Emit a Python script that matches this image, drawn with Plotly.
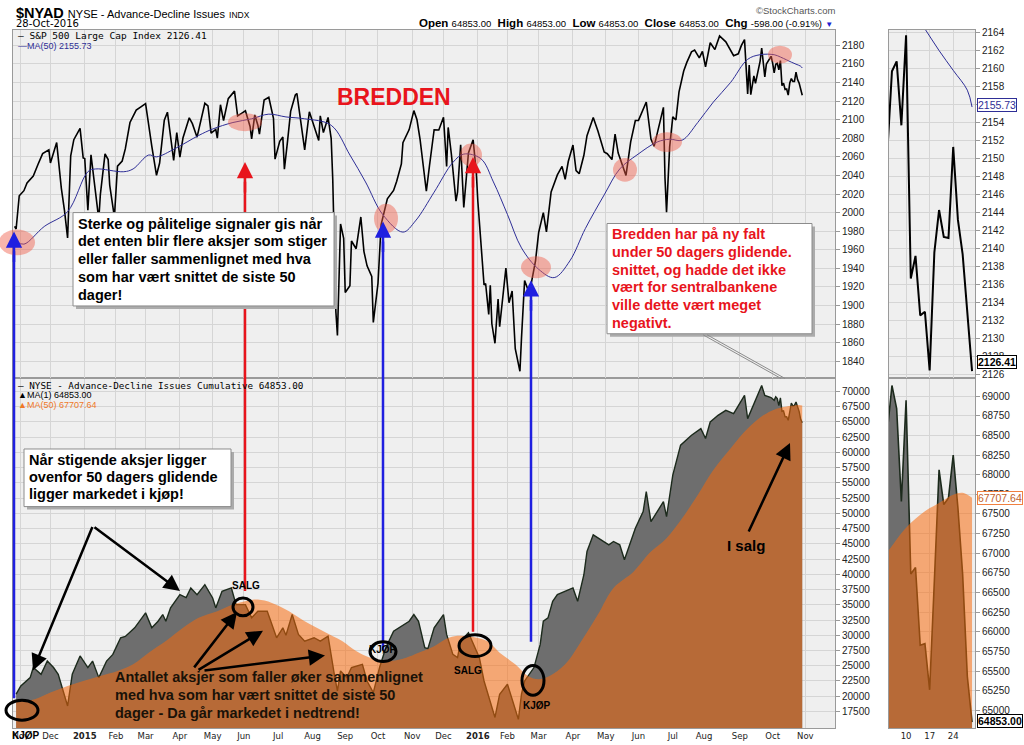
import pandas as pd
import plotly.graph_objects as go

# S&P 500 close (date, value)
sp500 = [
    ("2014-10-28", 1985.1), ("2014-10-29", 1982.3), ("2014-10-31", 2018.1),
    ("2014-11-05", 2023.6), ("2014-11-07", 2031.9), ("2014-11-13", 2039.3), ("2014-11-18", 2051.8),
    ("2014-11-21", 2063.5), ("2014-11-28", 2067.6),
    ("2014-12-01", 2053.4), ("2014-12-05", 2075.4), ("2014-12-10", 2026.1), ("2014-12-12", 2002.3),
    ("2014-12-16", 1972.7), ("2014-12-18", 2061.2), ("2014-12-22", 2078.5), ("2014-12-29", 2090.6),
    ("2014-12-31", 2058.9),
    ("2015-01-02", 2058.2), ("2015-01-06", 2002.6), ("2015-01-08", 2062.1), ("2015-01-13", 2023.0),
    ("2015-01-15", 1992.7), ("2015-01-16", 2019.4), ("2015-01-22", 2063.2), ("2015-01-26", 2057.1),
    ("2015-01-27", 2029.6), ("2015-01-30", 1995.0),
    ("2015-02-03", 2050.0), ("2015-02-06", 2055.5), ("2015-02-10", 2068.6), ("2015-02-13", 2097.0),
    ("2015-02-20", 2110.3), ("2015-02-25", 2113.9),
    ("2015-03-02", 2117.4), ("2015-03-06", 2071.3), ("2015-03-11", 2040.2), ("2015-03-13", 2053.4),
    ("2015-03-18", 2099.5), ("2015-03-20", 2108.1), ("2015-03-26", 2056.2), ("2015-03-30", 2086.2),
    ("2015-04-01", 2059.7), ("2015-04-06", 2080.6), ("2015-04-10", 2102.1), ("2015-04-14", 2095.8),
    ("2015-04-17", 2081.2), ("2015-04-24", 2117.7), ("2015-04-28", 2114.8), ("2015-04-30", 2085.5),
    ("2015-05-05", 2089.5), ("2015-05-06", 2080.2), ("2015-05-08", 2116.1), ("2015-05-12", 2099.1),
    ("2015-05-15", 2122.7), ("2015-05-21", 2130.8), ("2015-05-26", 2104.2), ("2015-05-29", 2107.4),
    ("2015-06-02", 2109.6), ("2015-06-05", 2092.8), ("2015-06-08", 2079.3), ("2015-06-10", 2105.2),
    ("2015-06-12", 2094.1), ("2015-06-15", 2084.4), ("2015-06-18", 2121.2), ("2015-06-23", 2124.2),
    ("2015-06-26", 2101.5), ("2015-06-29", 2057.6),
    ("2015-07-02", 2076.8), ("2015-07-07", 2081.3), ("2015-07-08", 2046.7), ("2015-07-10", 2076.6),
    ("2015-07-14", 2109.0), ("2015-07-17", 2126.6), ("2015-07-20", 2128.3), ("2015-07-24", 2079.7),
    ("2015-07-27", 2067.6), ("2015-07-30", 2108.6),
    ("2015-08-04", 2093.3), ("2015-08-07", 2077.6), ("2015-08-10", 2104.2), ("2015-08-12", 2086.1),
    ("2015-08-17", 2102.4), ("2015-08-19", 2079.6), ("2015-08-20", 2035.7), ("2015-08-21", 1970.9),
    ("2015-08-24", 1893.2), ("2015-08-25", 1867.6), ("2015-08-27", 1987.7), ("2015-08-31", 1972.2),
    ("2015-09-01", 1913.9), ("2015-09-04", 1921.2), ("2015-09-08", 1969.4), ("2015-09-11", 1961.1),
    ("2015-09-16", 1995.3), ("2015-09-18", 1958.0), ("2015-09-22", 1942.7), ("2015-09-25", 1931.3),
    ("2015-09-28", 1881.8),
    ("2015-10-01", 1923.8), ("2015-10-05", 1987.1), ("2015-10-09", 2014.9), ("2015-10-15", 2023.9),
    ("2015-10-19", 2033.7), ("2015-10-22", 2052.5), ("2015-10-23", 2075.2), ("2015-10-29", 2089.4),
    ("2015-11-03", 2109.8), ("2015-11-05", 2099.9), ("2015-11-09", 2078.6), ("2015-11-13", 2023.0),
    ("2015-11-17", 2050.4), ("2015-11-20", 2089.2), ("2015-11-25", 2088.9),
    ("2015-12-01", 2102.6), ("2015-12-03", 2049.6), ("2015-12-04", 2091.7), ("2015-12-08", 2063.6),
    ("2015-12-11", 2012.4), ("2015-12-14", 2021.9), ("2015-12-16", 2073.1), ("2015-12-18", 2005.6),
    ("2015-12-23", 2064.3), ("2015-12-29", 2078.4), ("2015-12-31", 2043.9),
    ("2016-01-04", 2012.7), ("2016-01-07", 1943.1), ("2016-01-08", 1922.0), ("2016-01-11", 1923.7),
    ("2016-01-13", 1890.3), ("2016-01-14", 1921.8), ("2016-01-15", 1880.3), ("2016-01-20", 1859.3),
    ("2016-01-22", 1906.9), ("2016-01-25", 1877.1), ("2016-01-29", 1940.2),
    ("2016-02-02", 1903.0), ("2016-02-04", 1915.5), ("2016-02-08", 1853.4), ("2016-02-11", 1829.1),
    ("2016-02-12", 1864.8), ("2016-02-17", 1926.8), ("2016-02-19", 1917.8), ("2016-02-23", 1921.3),
    ("2016-02-26", 1948.1),
    ("2016-03-01", 1978.4), ("2016-03-04", 2000.0), ("2016-03-08", 1979.3), ("2016-03-11", 2022.2),
    ("2016-03-17", 2040.6), ("2016-03-22", 2049.8), ("2016-03-24", 2035.9), ("2016-03-29", 2055.0),
    ("2016-04-01", 2072.8), ("2016-04-05", 2045.2), ("2016-04-07", 2041.9), ("2016-04-12", 2061.7),
    ("2016-04-14", 2082.8), ("2016-04-20", 2102.4), ("2016-04-25", 2087.8), ("2016-04-29", 2065.3),
    ("2016-05-03", 2063.4), ("2016-05-06", 2057.1), ("2016-05-10", 2084.4), ("2016-05-12", 2064.1),
    ("2016-05-19", 2040.0), ("2016-05-24", 2076.1), ("2016-05-27", 2099.1),
    ("2016-06-01", 2099.3), ("2016-06-08", 2119.1), ("2016-06-13", 2079.1), ("2016-06-15", 2071.5),
    ("2016-06-16", 2078.0), ("2016-06-23", 2113.3), ("2016-06-24", 2037.4), ("2016-06-27", 2000.5),
    ("2016-06-29", 2070.8),
    ("2016-07-01", 2103.0), ("2016-07-06", 2099.7), ("2016-07-08", 2129.9), ("2016-07-13", 2152.4),
    ("2016-07-15", 2161.7), ("2016-07-20", 2173.0), ("2016-07-22", 2175.0), ("2016-07-27", 2166.6),
    ("2016-07-29", 2173.6),
    ("2016-08-02", 2157.0), ("2016-08-05", 2182.9), ("2016-08-10", 2175.5), ("2016-08-15", 2190.2),
    ("2016-08-19", 2183.9), ("2016-08-24", 2175.4), ("2016-08-26", 2169.0), ("2016-08-31", 2171.0),
    ("2016-09-02", 2180.0), ("2016-09-07", 2186.2), ("2016-09-09", 2127.8), ("2016-09-12", 2159.0),
    ("2016-09-13", 2127.0), ("2016-09-15", 2147.3), ("2016-09-16", 2139.2), ("2016-09-21", 2163.1),
    ("2016-09-22", 2177.2), ("2016-09-26", 2146.1), ("2016-09-27", 2159.9), ("2016-09-30", 2168.3),
    ("2016-10-03", 2161.2), ("2016-10-04", 2150.5), ("2016-10-05", 2159.7), ("2016-10-06", 2160.8),
    ("2016-10-07", 2153.7), ("2016-10-10", 2163.7), ("2016-10-11", 2136.7), ("2016-10-12", 2139.2),
    ("2016-10-13", 2132.6), ("2016-10-14", 2133.0), ("2016-10-17", 2126.5), ("2016-10-18", 2139.6),
    ("2016-10-19", 2144.3), ("2016-10-20", 2141.3), ("2016-10-21", 2141.2), ("2016-10-24", 2151.3),
    ("2016-10-25", 2143.2), ("2016-10-26", 2139.4), ("2016-10-27", 2133.0), ("2016-10-28", 2126.41),
]

# MA(50) of the S&P 500
sp500_ma50 = [
    ("2014-10-29", 1969), ("2014-11-05", 1966), ("2014-11-24", 1985), ("2014-12-16", 2001),
    ("2015-01-06", 2044), ("2015-01-13", 2047), ("2015-02-09", 2044), ("2015-02-18", 2047),
    ("2015-03-04", 2062), ("2015-03-11", 2060), ("2015-03-27", 2069), ("2015-04-20", 2083),
    ("2015-05-01", 2090), ("2015-05-20", 2097), ("2015-06-08", 2101), ("2015-06-23", 2106),
    ("2015-07-09", 2103), ("2015-07-27", 2101), ("2015-08-19", 2094), ("2015-09-04", 2062),
    ("2015-09-21", 2033), ("2015-10-06", 1998), ("2015-10-23", 1979), ("2015-11-04", 1991),
    ("2015-11-20", 2022), ("2015-12-09", 2054), ("2015-12-18", 2063), ("2016-01-06", 2058),
    ("2016-01-19", 2033), ("2016-02-01", 1998), ("2016-02-12", 1962), ("2016-03-01", 1939),
    ("2016-03-15", 1930), ("2016-03-30", 1948), ("2016-04-13", 1983), ("2016-04-29", 2019),
    ("2016-05-13", 2047), ("2016-05-31", 2062), ("2016-06-17", 2076), ("2016-06-29", 2079),
    ("2016-07-12", 2078), ("2016-07-26", 2097), ("2016-08-09", 2119), ("2016-08-24", 2140),
    ("2016-09-09", 2165), ("2016-09-21", 2170), ("2016-10-04", 2170), ("2016-10-10", 2167.5),
    ("2016-10-14", 2164.4), ("2016-10-19", 2162.0), ("2016-10-24", 2159.8), ("2016-10-27", 2157.6),
    ("2016-10-28", 2155.73),
]

# NYSE advance-decline issues, cumulative (lower panel)
ad_line = [
    ("2014-10-29", 20330), ("2014-11-03", 21700), ("2014-11-11", 23050), ("2014-11-13", 24700),
    ("2014-11-20", 23600), ("2014-11-26", 25770), ("2014-12-03", 24700), ("2014-12-08", 23600),
    ("2014-12-16", 18400), ("2014-12-19", 23600), ("2014-12-29", 26600),
    ("2015-01-06", 24700), ("2015-01-09", 25770), ("2015-01-15", 23050), ("2015-01-23", 25770),
    ("2015-01-29", 26860), ("2015-02-05", 29590), ("2015-02-10", 29800), ("2015-02-19", 31220),
    ("2015-02-24", 32300), ("2015-03-02", 33670), ("2015-03-06", 31220), ("2015-03-12", 32300),
    ("2015-03-17", 33400), ("2015-03-19", 32300), ("2015-03-24", 34490), ("2015-04-01", 36660),
    ("2015-04-08", 36180), ("2015-04-13", 37760), ("2015-04-17", 36660), ("2015-04-24", 38300),
    ("2015-05-01", 36120), ("2015-05-05", 34490), ("2015-05-11", 37210), ("2015-05-19", 37760),
    ("2015-05-22", 35030), ("2015-06-02", 35030), ("2015-06-08", 32860), ("2015-06-12", 33940),
    ("2015-06-22", 33940), ("2015-06-30", 29590), ("2015-07-07", 31220), ("2015-07-09", 30000),
    ("2015-07-15", 33400), ("2015-07-21", 30130), ("2015-07-27", 29040), ("2015-08-04", 29590),
    ("2015-08-10", 29040), ("2015-08-17", 29850), ("2015-08-21", 23600), ("2015-08-25", 20870),
    ("2015-08-27", 24140), ("2015-09-02", 23050), ("2015-09-08", 24700), ("2015-09-17", 25230),
    ("2015-09-22", 22500), ("2015-09-28", 20600), ("2015-10-02", 24700), ("2015-10-08", 27960),
    ("2015-10-15", 30680), ("2015-10-29", 32300), ("2015-11-03", 33400), ("2015-11-06", 32300),
    ("2015-11-12", 27960), ("2015-11-16", 27800), ("2015-11-20", 31220), ("2015-12-01", 33400),
    ("2015-12-03", 30130), ("2015-12-09", 26860), ("2015-12-14", 26330), ("2015-12-16", 29040),
    ("2015-12-23", 30400), ("2015-12-31", 27400),
    ("2016-01-05", 26330), ("2016-01-08", 22500), ("2016-01-20", 16520), ("2016-01-25", 20330),
    ("2016-02-01", 21960), ("2016-02-05", 18690), ("2016-02-10", 16200), ("2016-02-12", 20330),
    ("2016-02-17", 22500), ("2016-02-25", 24700), ("2016-03-02", 28500), ("2016-03-04", 32300),
    ("2016-03-09", 32860), ("2016-03-14", 35570), ("2016-03-17", 36660), ("2016-04-01", 37760),
    ("2016-04-06", 35570), ("2016-04-12", 39930), ("2016-04-14", 43740), ("2016-04-20", 46470),
    ("2016-05-04", 44830), ("2016-05-09", 45380), ("2016-05-13", 44830), ("2016-05-18", 42380),
    ("2016-05-27", 47560), ("2016-06-06", 50280), ("2016-06-08", 53550), ("2016-06-13", 48640),
    ("2016-06-23", 51910), ("2016-06-27", 49460), ("2016-07-01", 56270), ("2016-07-11", 61180),
    ("2016-07-20", 62810), ("2016-07-28", 63900), ("2016-08-02", 62270), ("2016-08-05", 64980),
    ("2016-08-12", 66080), ("2016-08-19", 66900), ("2016-08-26", 66370), ("2016-09-07", 69350),
    ("2016-09-09", 65540), ("2016-09-22", 70980), ("2016-09-26", 69350), ("2016-09-30", 69000),
    ("2016-10-03", 68810), ("2016-10-04", 68540), ("2016-10-05", 69135), ("2016-10-06", 68840),
    ("2016-10-07", 67660), ("2016-10-10", 68946), ("2016-10-11", 66736), ("2016-10-12", 66820),
    ("2016-10-13", 65830), ("2016-10-14", 65850), ("2016-10-17", 65263), ("2016-10-18", 66650),
    ("2016-10-19", 68062), ("2016-10-20", 67620), ("2016-10-21", 67705), ("2016-10-24", 68250),
    ("2016-10-25", 67578), ("2016-10-26", 66736), ("2016-10-27", 65432), ("2016-10-28", 64853),
]

# MA(50) of the A/D line (orange area)
ad_ma50 = [
    ("2014-10-29", 19200), ("2014-11-14", 19510), ("2014-12-01", 20600), ("2014-12-16", 21680),
    ("2014-12-31", 22500), ("2015-01-16", 23320), ("2015-02-03", 24140), ("2015-02-18", 25230),
    ("2015-03-04", 27140), ("2015-03-19", 29040), ("2015-04-06", 31220), ("2015-04-20", 32860),
    ("2015-05-06", 33940), ("2015-05-20", 35030), ("2015-06-04", 35690), ("2015-06-12", 35850),
    ("2015-06-25", 35310), ("2015-07-13", 33940), ("2015-07-27", 32300), ("2015-08-12", 30670),
    ("2015-08-28", 29040), ("2015-09-11", 27400), ("2015-09-24", 26330), ("2015-10-12", 25770),
    ("2015-10-27", 26330), ("2015-11-06", 27140), ("2015-11-20", 28210), ("2015-12-02", 29310),
    ("2015-12-10", 29850), ("2015-12-23", 29850), ("2016-01-12", 29040), ("2016-01-25", 27140),
    ("2016-02-08", 25230), ("2016-02-19", 23320), ("2016-03-01", 22780), ("2016-03-10", 23320),
    ("2016-03-24", 25230), ("2016-04-07", 28500), ("2016-04-25", 33400), ("2016-05-09", 37760),
    ("2016-05-26", 40470), ("2016-06-10", 43480), ("2016-06-27", 45930), ("2016-07-12", 49200),
    ("2016-07-26", 53010), ("2016-08-09", 57090), ("2016-08-24", 60640), ("2016-09-09", 63900),
    ("2016-09-23", 66080), ("2016-10-04", 67010), ("2016-10-10", 67326), ("2016-10-14", 67535),
    ("2016-10-19", 67640), ("2016-10-24", 67746), ("2016-10-26", 67770), ("2016-10-28", 67707.64),
]

month_ticks = ["2014-11-03", "2014-12-01", "2015-01-02", "2015-02-02", "2015-03-02", "2015-04-01",
               "2015-05-01", "2015-06-01", "2015-07-01", "2015-08-03", "2015-09-01", "2015-10-01",
               "2015-11-02", "2015-12-01", "2016-01-04", "2016-02-01", "2016-03-01", "2016-04-01",
               "2016-05-02", "2016-06-01", "2016-07-01", "2016-08-01", "2016-09-01", "2016-10-03",
               "2016-11-01"]
month_text = ["Nov", "Dec", "<b>2015</b>", "Feb", "Mar", "Apr", "May", "Jun", "Jul", "Aug", "Sep", "Oct",
              "Nov", "Dec", "<b>2016</b>", "Feb", "Mar", "Apr", "May", "Jun", "Jul", "Aug", "Sep", "Oct",
              "Nov"]
inset_ticks = ["2016-10-10", "2016-10-17", "2016-10-24"]
inset_text = ["10", "17", "24"]

holidays = ["2014-11-27", "2014-12-25", "2015-01-01", "2015-01-19", "2015-02-16", "2015-04-03",
            "2015-05-25", "2015-07-03", "2015-09-07", "2015-11-26", "2015-12-25", "2016-01-01",
            "2016-01-18", "2016-02-15", "2016-03-25", "2016-05-30", "2016-07-04", "2016-09-05",
            "2016-11-24"]

box1_lines = ["Sterke og pålitelige signaler gis når", "det enten blir flere aksjer som stiger",
              "eller faller sammenlignet med hva", "som har vært snittet de siste 50", "dager!"]
box2_lines = ["Bredden har på ny falt", "under 50 dagers glidende.", "snittet, og hadde det ikke",
              "vært for sentralbankene", "ville dette vært meget", "negativt."]
box3_lines = ["Når stigende aksjer ligger", "ovenfor 50 dagers glidende", "ligger markedet i kjøp!"]
fall_lines = ["Antallet aksjer som faller øker sammenlignet", "med hva som har vært snittet de siste 50",
              "dager - Da går markedet i nedtrend!"]


def frame(rows):
    d = pd.DataFrame(rows, columns=["date", "value"])
    d["date"] = pd.to_datetime(d["date"])
    return d


sp = frame(sp500)
spma = frame(sp500_ma50)
ad = frame(ad_line)
adma = frame(ad_ma50)
cut = pd.Timestamp("2016-09-30")

W, H = 1024, 745


def px(x):
    return x / W


def py(y):
    return 1 - y / H


BG = "#efefef"
GRID = "#d5d5d5"
FRAME = "#9a9a9a"
GRAY = "#6e6e6e"
ORANGE = "rgba(250,104,8,0.53)"
NAVY = "#2e2e96"
RED = "#e8141c"
BLUE = "#1f1fe0"
ARIAL = "Liberation Sans, Arial"

fig = go.Figure()
# main panels
fig.add_trace(go.Scatter(x=sp.date, y=sp.value, xaxis="x2", yaxis="y", mode="lines",
                         line=dict(color="black", width=1.6)))
fig.add_trace(go.Scatter(x=spma.date, y=spma.value, xaxis="x2", yaxis="y", mode="lines",
                         line=dict(color=NAVY, width=1, shape="spline")))
fig.add_trace(go.Scatter(x=ad.date, y=ad.value, xaxis="x", yaxis="y2", mode="lines", fill="tozeroy",
                         fillcolor=GRAY, line=dict(color="#1c2a1c", width=1.4)))
fig.add_trace(go.Scatter(x=adma.date, y=adma.value, xaxis="x", yaxis="y2", mode="lines", fill="tozeroy",
                         fillcolor=ORANGE, line=dict(width=0, shape="spline")))
# october close-up
o_sp = sp[sp.date >= cut]
o_spma = spma[spma.date >= cut]
o_ad = ad[ad.date >= cut]
o_adma = adma[adma.date >= pd.Timestamp("2016-09-23")]
fig.add_trace(go.Scatter(x=o_sp.date, y=o_sp.value, xaxis="x4", yaxis="y3", mode="lines",
                         line=dict(color="black", width=2)))
fig.add_trace(go.Scatter(x=o_spma.date, y=o_spma.value, xaxis="x4", yaxis="y3", mode="lines",
                         line=dict(color=NAVY, width=1, shape="spline")))
fig.add_trace(go.Scatter(x=o_ad.date, y=o_ad.value, xaxis="x3", yaxis="y4", mode="lines", fill="tozeroy",
                         fillcolor=GRAY, line=dict(color="#1c2a1c", width=1.6)))
fig.add_trace(go.Scatter(x=o_adma.date, y=o_adma.value, xaxis="x3", yaxis="y4", mode="lines", fill="tozeroy",
                         fillcolor=ORANGE, line=dict(width=0, shape="spline")))

tickfont = dict(family=ARIAL, size=10, color="#222")
xfont = dict(family="DejaVu Sans", size=8.5, color="#222")
top_dom = [py(378), py(27)]
bot_dom = [py(730), py(378)]
main_dom = [px(13), px(835)]
ins_dom = [px(889), px(975)]
breaks = [dict(bounds=["sat", "mon"]), dict(values=holidays)]

common_y = dict(side="right", ticks="outside", ticklen=4, tickcolor=FRAME, gridcolor=GRID,
                showline=True, mirror=True, linecolor=FRAME, tickfont=tickfont, zeroline=False,
                tickformat="d")
common_x = dict(type="date", showgrid=True, gridcolor=GRID, showline=True, mirror=True,
                linecolor=FRAME, ticks="", zeroline=False, tickfont=xfont)

fig.update_layout(
    width=W, height=H, margin=dict(l=0, r=0, t=0, b=0), showlegend=False,
    paper_bgcolor="white", plot_bgcolor=BG,
    xaxis=dict(common_x, domain=main_dom, anchor="y2", range=["2014-10-27", "2016-11-29"],
               rangebreaks=breaks, tickvals=month_ticks, ticktext=month_text),
    xaxis2=dict(common_x, domain=main_dom, anchor="y", matches="x", rangebreaks=breaks,
                tickvals=month_ticks, showticklabels=False),
    xaxis3=dict(common_x, domain=ins_dom, anchor="y4", range=["2016-10-04 09:00", "2016-10-28 15:00"],
                rangebreaks=[dict(bounds=["sat", "mon"])], tickvals=inset_ticks, ticktext=inset_text),
    xaxis4=dict(common_x, domain=ins_dom, anchor="y3", matches="x3", rangebreaks=[dict(bounds=["sat", "mon"])],
                tickvals=inset_ticks, showticklabels=False),
    yaxis=dict(common_y, domain=top_dom, anchor="x2", range=[1821.4, 2196.8], dtick=20, tick0=0),
    yaxis2=dict(common_y, domain=bot_dom, anchor="x", range=[14770, 72124],
                tickvals=list(range(17500, 70001, 2500))),
    yaxis3=dict(common_y, domain=top_dom, anchor="x4", range=[2125.6, 2164.3], dtick=2, tick0=0),
    yaxis4=dict(common_y, domain=bot_dom, anchor="x3", range=[64776, 69224], dtick=250, tick0=0),
)


def note(x, y, text, size=11, color="black", family=ARIAL, xanchor="left", yanchor="middle", weight=None, **kw):
    font = dict(size=size, color=color, family=family)
    if weight:
        font["weight"] = weight
    return dict(x=px(x), y=py(y), xref="paper", yref="paper", text=text, showarrow=False,
                xanchor=xanchor, yanchor=yanchor, font=font, **kw)


def arrow(x0, y0, x1, y1, color="black", width=2.5, size=1.3):
    # tail (x0, y0) -> head (x1, y1), page pixels
    return dict(x=px(x1), y=py(y1), xref="paper", yref="paper", ax=x0 - x1, ay=y0 - y1,
                axref="pixel", ayref="pixel", text="", showarrow=True, arrowhead=2,
                arrowsize=size, arrowwidth=width, arrowcolor=color, standoff=0)


def text_lines(x, y0, step, lines, color="black"):
    return [note(x, y0 + i * step, t, size=14.5, color=color, weight="bold") for i, t in enumerate(lines)]


ann = [
    note(14, 10, "<b>$NYAD</b> <span style='font-size:11px'>NYSE - Advance-Decline Issues</span> "
                 "<span style='font-size:8.5px'>INDX</span>", size=14.5),
    note(14, 21, "28-Oct-2016", size=10, family="DejaVu Sans"),
    note(837, 8, "©StockCharts.com", size=9.5, color="#555", xanchor="right"),
    note(835, 20, "<b>Open</b> <span style='font-size:9.5px'>64853.00</span>  <b>High</b> "
                  "<span style='font-size:9.5px'>64853.00</span>  <b>Low</b> "
                  "<span style='font-size:9.5px'>64853.00</span>  <b>Close</b> "
                  "<span style='font-size:9.5px'>64853.00</span>  <b>Chg</b> "
                  "<span style='font-size:9.5px'>-598.00 (-0.91%)</span> "
                  "<span style='color:#2020d0;font-size:8px'>▼</span>", size=11.5, xanchor="right"),
    note(16, 33, "— S&P 500 Large Cap Index 2126.41", size=9.5, family="DejaVu Sans Mono"),
    note(16, 43, "—MA(50) 2155.73", size=9, color=NAVY),
    note(16, 385, "— NYSE - Advance-Decline Issues Cumulative 64853.00", size=9.3, family="DejaVu Sans Mono"),
    note(16, 395, "▲MA(1) 64853.00", size=9),
    note(16, 405, "▲MA(50) 67707.64", size=9, color="#f07828"),
    note(335, 95, "<b>BREDDEN</b>", size=23, color=RED),
    # value flags on the close-up axis
    note(977, 103, "2155.73", size=10.5, color=NAVY, bgcolor="white", bordercolor=NAVY, borderwidth=1, borderpad=0),
    note(977, 361, "<b>2126.41</b>", size=10.5, bgcolor="white", bordercolor="black", borderwidth=1, borderpad=0),
    note(977, 498, "67707.64", size=10.5, color="#c0602a", bgcolor="white", bordercolor="#f08040", borderwidth=1, borderpad=0),
    note(977, 723, "<b>64853.00</b>", size=10.5, bgcolor="white", bordercolor="black", borderwidth=1, borderpad=0),
    # heads of the signal lines
    arrow(14, 262, 14, 230, BLUE, 2.5, 1.3),
    arrow(245, 192, 245, 160, RED, 2.5, 1.3),
    arrow(383, 252, 383, 220, BLUE, 2.5, 1.3),
    arrow(473, 187, 473, 155, RED, 2.5, 1.3),
    arrow(531, 311, 531, 279, BLUE, 2.5, 1.3),
    # black arrows
    arrow(93, 527, 33, 672),
    arrow(93, 527, 180, 592),
    arrow(193, 670, 237, 613),
    arrow(197, 672, 263, 632),
    arrow(203, 672, 325, 657),
    arrow(748, 533, 790, 443),
    note(725, 546, "<b>I salg</b>", size=15),
    note(246, 586, "<b>SALG</b>", size=10, xanchor="center"),
    note(383, 651, "<b>KJØP</b>", size=10, xanchor="center"),
    note(468, 672, "<b>SALG</b>", size=10, xanchor="center"),
    note(537, 707, "<b>KJØP</b>", size=10, xanchor="center"),
    note(26, 737, "<b>KJØP</b>", size=10, xanchor="center"),
]
ann += text_lines(76, 222, 17.9, box1_lines)
ann += text_lines(610, 233, 17.8, box2_lines, color=RED)
ann += text_lines(27, 460, 17.2, box3_lines)
ann += text_lines(113, 679, 18, fall_lines, color="#1a1208")
fig.update_layout(annotations=ann)


def ellipse(cx, cy, rx, ry, **kw):
    return dict(type="circle", xref="paper", yref="paper", x0=px(cx - rx), x1=px(cx + rx),
                y0=py(cy + ry), y1=py(cy - ry), layer="above", **kw)


def seg(x0, y0, x1, y1, color, width):
    return dict(type="line", xref="paper", yref="paper", x0=px(x0), y0=py(y0), x1=px(x1), y1=py(y1),
                line=dict(color=color, width=width), layer="above")


shapes = [
    seg(14, 700, 14, 250, BLUE, 2.5),
    seg(245, 592, 245, 180, RED, 2.5),
    seg(383, 652, 383, 240, BLUE, 2.5),
    seg(473, 633, 473, 175, RED, 2.5),
    seg(531, 643, 531, 299, BLUE, 2.5),
]
# text boxes with a soft shadow
for x0, y0, x1, y1 in [(73, 211, 334, 305), (607, 222, 812, 333), (24, 449, 231, 507)]:
    shapes.append(dict(type="rect", xref="paper", yref="paper", x0=px(x0 + 3), x1=px(x1 + 3),
                       y0=py(y1 + 3), y1=py(y0 + 3), fillcolor="#ababab", line=dict(width=0), layer="above"))
    shapes.append(dict(type="rect", xref="paper", yref="paper", x0=px(x0), x1=px(x1),
                       y0=py(y1), y1=py(y0), fillcolor="white", line=dict(color="#8c8c8c", width=1),
                       layer="above"))
# callout from the red box
for dx in (0, 4):
    shapes.append(seg(703 + dx, 334, 781 + dx, 378, "#8c8c8c", 1))
for cx, cy, rx, ry in [(17, 241, 18, 13), (245, 120, 17, 9), (386, 217, 12, 15), (471, 153, 11, 11.5),
                       (536, 266, 15, 11), (625, 168, 12, 12), (667, 140, 15, 10), (780, 52, 12, 9)]:
    shapes.append(ellipse(cx, cy, rx, ry, fillcolor="rgba(240,90,70,0.45)", line=dict(width=0)))
for cx, cy, rx, ry in [(22, 712, 16, 10), (243, 608, 10, 9), (383, 653, 13, 10), (475, 647, 16, 11),
                       (533, 682, 11, 15)]:
    shapes.append(ellipse(cx, cy, rx, ry, line=dict(color="black", width=3)))
fig.update_layout(shapes=shapes)

fig.write_html("out.html", config={"displayModeBar": False},
               post_script="document.body.style.margin='0';")
